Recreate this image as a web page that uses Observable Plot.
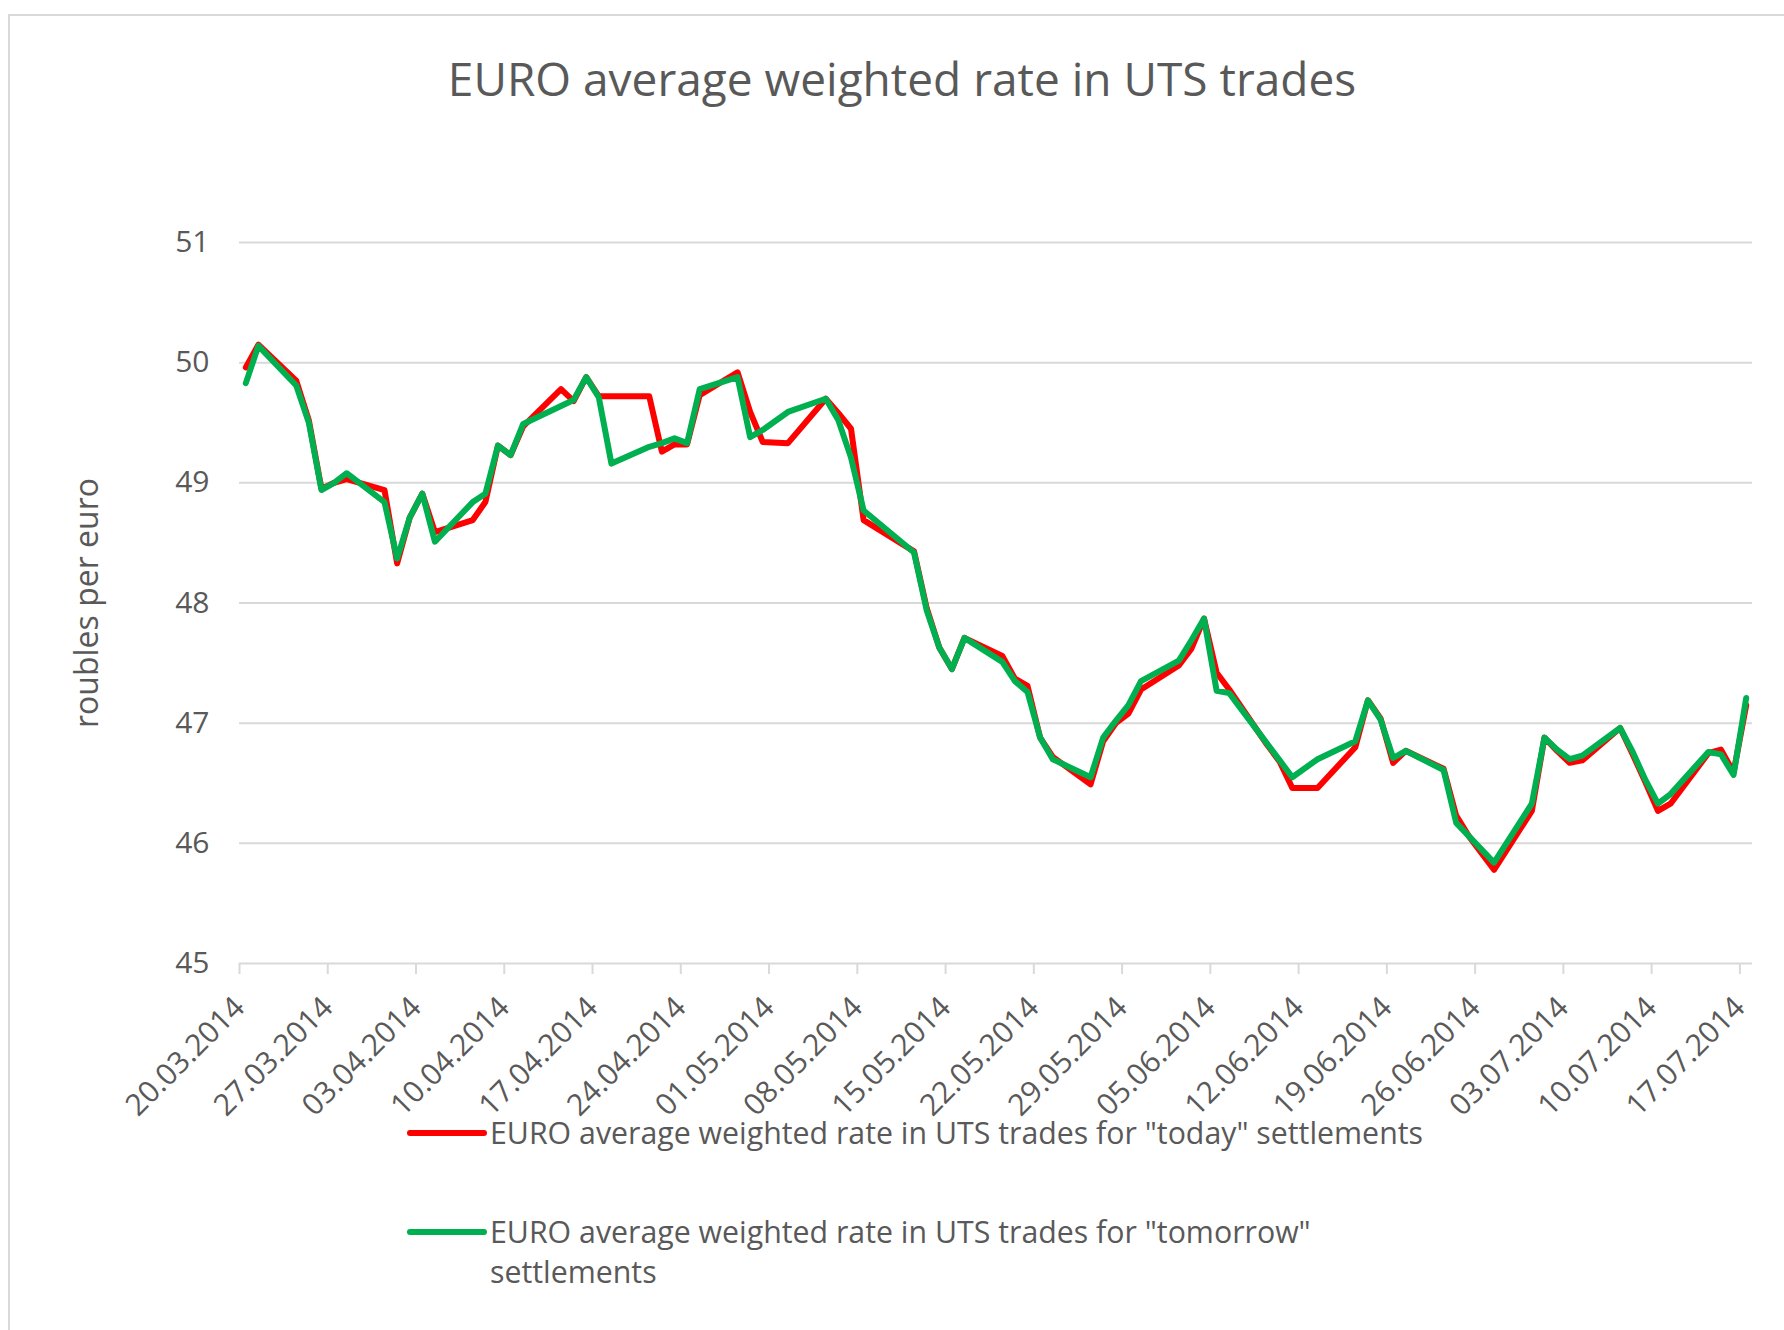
<!DOCTYPE html>
<html>
<head>
<meta charset="utf-8">
<script src="https://cdn.jsdelivr.net/npm/d3@7"></script>
<script src="https://cdn.jsdelivr.net/npm/@observablehq/plot@0.6"></script>
<style>
  html, body { margin: 0; padding: 0; background: #fff; overflow: hidden; }
  #root { position: relative; width: 1784px; height: 1330px; font-family: "Open Sans", sans-serif; color: #595959; overflow: hidden; }
  #frame { position: absolute; left: 8px; top: 14px; width: 1820px; height: 1400px; border: 2px solid #d9d9d9; box-sizing: border-box; }
  #title { position: absolute; left: 8px; width: 1788px; top: 48px; text-align: center; font-size: 46px; line-height: 60px; white-space: nowrap; }
  #chart { position: absolute; left: 0; top: 0; }
  #legend { position: absolute; left: 407px; top: 1113px; font-size: 30.3px; line-height: 40px; }
  .item { display: flex; align-items: flex-start; margin-bottom: 59px; }
  .sw { width: 80px; height: 6px; margin-top: 17px; border-radius: 3px; flex: none; }
  .lab { width: 945px; padding-left: 3px; }
</style>
</head>
<body>
<div id="root">
  <div id="frame"></div>
  <div id="chart"></div>
  <div id="title"></div>
  <div id="legend"></div>
</div>
<script>
const titleText = "EURO average weighted rate in UTS trades";
const yLabel = "roubles per euro";
const seriesNames = [
  "EURO average weighted rate in UTS trades for \"today\" settlements",
  "EURO average weighted rate in UTS trades for \"tomorrow\" settlements"
];
const seriesColors = ["#ff0000", "#00b050"];

const xTickLabels = ["20.03.2014", "27.03.2014", "03.04.2014", "10.04.2014", "17.04.2014", "24.04.2014",
  "01.05.2014", "08.05.2014", "15.05.2014", "22.05.2014", "29.05.2014", "05.06.2014", "12.06.2014",
  "19.06.2014", "26.06.2014", "03.07.2014", "10.07.2014", "17.07.2014"];
const yTicks = [45, 46, 47, 48, 49, 50, 51];

const dates = [
  "2014-03-20", "2014-03-21", "2014-03-24", "2014-03-25", "2014-03-26", "2014-03-27", "2014-03-28", "2014-03-31",
  "2014-04-01", "2014-04-02", "2014-04-03", "2014-04-04", "2014-04-07", "2014-04-08", "2014-04-09", "2014-04-10",
  "2014-04-11", "2014-04-14", "2014-04-15", "2014-04-16", "2014-04-17", "2014-04-18", "2014-04-21", "2014-04-22",
  "2014-04-23", "2014-04-24", "2014-04-25", "2014-04-28", "2014-04-29", "2014-04-30",
  "2014-05-02", "2014-05-05", "2014-05-06", "2014-05-07", "2014-05-08", "2014-05-12", "2014-05-13", "2014-05-14",
  "2014-05-15", "2014-05-16", "2014-05-19", "2014-05-20", "2014-05-21", "2014-05-22", "2014-05-23", "2014-05-26",
  "2014-05-27", "2014-05-28", "2014-05-29", "2014-05-30",
  "2014-06-02", "2014-06-03", "2014-06-04", "2014-06-05", "2014-06-06", "2014-06-09", "2014-06-10", "2014-06-11",
  "2014-06-13", "2014-06-16", "2014-06-17", "2014-06-18", "2014-06-19", "2014-06-20", "2014-06-23", "2014-06-24",
  "2014-06-25", "2014-06-26", "2014-06-27", "2014-06-30",
  "2014-07-01", "2014-07-02", "2014-07-03", "2014-07-04", "2014-07-07", "2014-07-08", "2014-07-09", "2014-07-10",
  "2014-07-11", "2014-07-14", "2014-07-15", "2014-07-16", "2014-07-17"
];

const todayRate = [
  49.96, 50.15, 49.85, 49.52, 48.95, 49.00, 49.03, 48.94,
  48.33, 48.71, 48.91, 48.59, 48.69, 48.84, 49.31, 49.23, 49.47, 49.78, 49.68, 49.88, 49.72, 49.72, 49.72, 49.26,
  49.32, 49.32, 49.73, 49.92, 49.59, 49.34,
  49.33, 49.70, 49.58, 49.45, 48.69, 48.43, 47.96, 47.63, 47.45, 47.71, 47.56, 47.37, 47.31, 46.88, 46.72, 46.49,
  46.85, 47.00, 47.08, 47.28,
  47.48, 47.62, 47.87, 47.42, 47.28, 46.82, 46.68, 46.46, 46.46, 46.80, 47.19, 47.04, 46.67, 46.77, 46.62, 46.23,
  46.06, 45.92, 45.78, 46.27,
  46.88, 46.77, 46.67, 46.69, 46.96, 46.74, 46.51, 46.27, 46.33, 46.75, 46.78, 46.59, 47.15
];

const tomorrowRate = [
  49.83, 50.14, 49.81, 49.50, 48.94, 49.00, 49.08, 48.84,
  48.37, 48.71, 48.91, 48.51, 48.84, 48.91, 49.31, 49.23, 49.49, 49.64, 49.69, 49.88, 49.71, 49.16, 49.30, 49.33,
  49.37, 49.33, 49.78, 49.88, 49.38, 49.44,
  49.59, 49.70, 49.52, 49.21, 48.77, 48.42, 47.94, 47.63, 47.45, 47.71, 47.51, 47.35, 47.26, 46.88, 46.70, 46.55,
  46.88, 47.02, 47.15, 47.35,
  47.52, 47.69, 47.87, 47.27, 47.25, 46.83, 46.69, 46.55, 46.70, 46.85, 47.19, 47.03, 46.71, 46.77, 46.61, 46.17,
  46.06, 45.95, 45.84, 46.33,
  46.88, 46.78, 46.70, 46.73, 46.96, 46.76, 46.53, 46.33, 46.41, 46.76, 46.74, 46.57, 47.21
];

const parseISO = d3.utcParse("%Y-%m-%d");
const parseTick = d3.utcParse("%d.%m.%Y");
const fmtTick = d3.utcFormat("%d.%m.%Y");
// Points sit in the middle of each day's slot on a date axis
const toRows = (vals) => dates.map((d, i) => ({date: d3.utcHour.offset(parseISO(d), 12), value: vals[i]}));
const todayRows = toRows(todayRate);
const tomorrowRows = toRows(tomorrowRate);
const xTicks = xTickLabels.map(parseTick);
const xDomain = [xTicks[0], d3.utcDay.offset(xTicks[xTicks.length - 1], 1)];

const chart = Plot.plot({
  width: 1784,
  height: 1125,
  marginLeft: 239,
  marginRight: 32,
  marginTop: 242,
  marginBottom: 162,
  style: {fontFamily: '"Open Sans", sans-serif', fontSize: "29px", color: "#595959", background: "transparent"},
  x: {type: "utc", domain: xDomain},
  y: {domain: [45, 51]},
  marks: [
    Plot.gridY(yTicks, {stroke: "#d9d9d9", strokeOpacity: 1, strokeWidth: 2}),
    Plot.axisY(yTicks, {
      anchor: "left", tickSize: 0, tickPadding: 30, fill: "#595959", fontSize: 30,
      tickFormat: (d) => String(d),
      label: yLabel, labelAnchor: "center", labelArrow: "none", labelOffset: 164
    }),
    Plot.axisX(xTicks, {
      anchor: "bottom", tickSize: 11, stroke: "#d9d9d9", strokeWidth: 2, tickPadding: 28,
      tickRotate: -45, tickFormat: fmtTick, fill: "#595959", fontSize: 30, label: null
    }),
    Plot.lineY(todayRows, {x: "date", y: "value", stroke: seriesColors[0], strokeWidth: 6, strokeLinejoin: "round", strokeLinecap: "round"}),
    Plot.lineY(tomorrowRows, {x: "date", y: "value", stroke: seriesColors[1], strokeWidth: 6, strokeLinejoin: "round", strokeLinecap: "round"})
  ]
});
document.getElementById("chart").appendChild(chart);

// enlarge the y-axis title slightly to match the reference
chart.querySelectorAll("[aria-label='y-axis label'] text").forEach((t) => t.setAttribute("font-size", "32"));

document.getElementById("title").textContent = titleText;

const legend = document.getElementById("legend");
seriesNames.forEach((name, i) => {
  const item = document.createElement("div");
  item.className = "item";
  const sw = document.createElement("div");
  sw.className = "sw";
  sw.style.background = seriesColors[i];
  const lab = document.createElement("div");
  lab.className = "lab";
  lab.textContent = name;
  item.appendChild(sw);
  item.appendChild(lab);
  legend.appendChild(item);
});
</script>
</body>
</html>
